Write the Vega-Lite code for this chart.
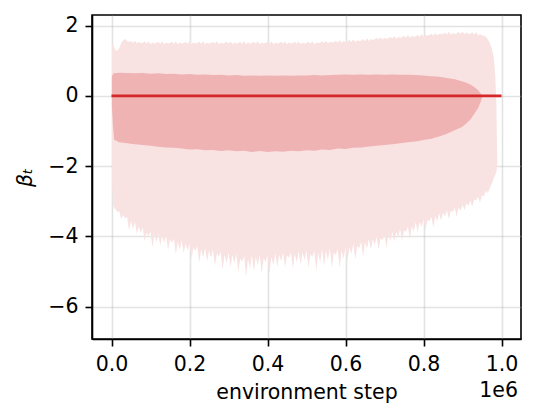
{
  "$schema": "https://vega.github.io/schema/vega-lite/v6.json",
  "autosize": {"type": "none"},
  "width": 429,
  "height": 324,
  "padding": {"left": 92, "top": 15, "right": 15, "bottom": 80},
  "background": "white",
  "config": {
    "view": {"stroke": "black", "strokeWidth": 1.6},
    "font": "DejaVu Sans",
    "axis": {
      "labelFont": "DejaVu Sans",
      "labelFontSize": 20.5,
      "labelColor": "black",
      "titleFont": "DejaVu Sans",
      "titleFontSize": 20.5,
      "titleFontWeight": "normal",
      "titleColor": "black",
      "domainColor": "black",
      "domainWidth": 1.6,
      "tickColor": "black",
      "tickWidth": 1.6,
      "tickSize": 7,
      "grid": true,
      "gridColor": "#b0b0b0",
      "gridOpacity": 0.35,
      "gridWidth": 1.6,
      "zindex": 1
    }
  },
  "datasets": {
    "outer": [
      {"step": 1000, "lo": -2.4, "hi": 1.5},
      {"step": 4000, "lo": -3.1, "hi": 1.45},
      {"step": 7000, "lo": -3.2, "hi": 1.38},
      {"step": 10000, "lo": -3.21, "hi": 1.3},
      {"step": 15000, "lo": -3.31, "hi": 1.28},
      {"step": 20000, "lo": -3.28, "hi": 1.36},
      {"step": 25000, "lo": -3.51, "hi": 1.5},
      {"step": 30000, "lo": -3.4, "hi": 1.58},
      {"step": 35000, "lo": -3.49, "hi": 1.62},
      {"step": 40000, "lo": -3.44, "hi": 1.55},
      {"step": 45000, "lo": -3.83, "hi": 1.54},
      {"step": 50000, "lo": -3.56, "hi": 1.56},
      {"step": 55000, "lo": -3.78, "hi": 1.5},
      {"step": 60000, "lo": -3.58, "hi": 1.57},
      {"step": 65000, "lo": -3.93, "hi": 1.49},
      {"step": 70000, "lo": -3.71, "hi": 1.54},
      {"step": 75000, "lo": -3.91, "hi": 1.5},
      {"step": 80000, "lo": -3.75, "hi": 1.51},
      {"step": 85000, "lo": -4.14, "hi": 1.55},
      {"step": 90000, "lo": -3.89, "hi": 1.48},
      {"step": 95000, "lo": -3.98, "hi": 1.55},
      {"step": 100000, "lo": -3.87, "hi": 1.47},
      {"step": 105000, "lo": -4.31, "hi": 1.52},
      {"step": 110000, "lo": -3.95, "hi": 1.49},
      {"step": 115000, "lo": -4.17, "hi": 1.5},
      {"step": 120000, "lo": -3.91, "hi": 1.54},
      {"step": 125000, "lo": -4.26, "hi": 1.48},
      {"step": 130000, "lo": -3.99, "hi": 1.55},
      {"step": 135000, "lo": -4.18, "hi": 1.47},
      {"step": 140000, "lo": -3.97, "hi": 1.52},
      {"step": 145000, "lo": -4.39, "hi": 1.49},
      {"step": 150000, "lo": -4.09, "hi": 1.5},
      {"step": 155000, "lo": -4.18, "hi": 1.54},
      {"step": 160000, "lo": -4.06, "hi": 1.48},
      {"step": 165000, "lo": -4.51, "hi": 1.55},
      {"step": 170000, "lo": -4.15, "hi": 1.47},
      {"step": 175000, "lo": -4.37, "hi": 1.52},
      {"step": 180000, "lo": -4.12, "hi": 1.49},
      {"step": 185000, "lo": -4.48, "hi": 1.5},
      {"step": 190000, "lo": -4.21, "hi": 1.54},
      {"step": 195000, "lo": -4.41, "hi": 1.48},
      {"step": 200000, "lo": -4.2, "hi": 1.55},
      {"step": 205000, "lo": -4.63, "hi": 1.47},
      {"step": 210000, "lo": -4.32, "hi": 1.52},
      {"step": 215000, "lo": -4.41, "hi": 1.49},
      {"step": 220000, "lo": -4.28, "hi": 1.5},
      {"step": 225000, "lo": -4.75, "hi": 1.54},
      {"step": 230000, "lo": -4.36, "hi": 1.48},
      {"step": 235000, "lo": -4.6, "hi": 1.55},
      {"step": 240000, "lo": -4.32, "hi": 1.47},
      {"step": 245000, "lo": -4.71, "hi": 1.52},
      {"step": 250000, "lo": -4.4, "hi": 1.49},
      {"step": 255000, "lo": -4.61, "hi": 1.5},
      {"step": 260000, "lo": -4.37, "hi": 1.54},
      {"step": 265000, "lo": -4.84, "hi": 1.48},
      {"step": 270000, "lo": -4.49, "hi": 1.55},
      {"step": 275000, "lo": -4.58, "hi": 1.47},
      {"step": 280000, "lo": -4.44, "hi": 1.52},
      {"step": 285000, "lo": -4.96, "hi": 1.49},
      {"step": 290000, "lo": -4.51, "hi": 1.5},
      {"step": 295000, "lo": -4.77, "hi": 1.54},
      {"step": 300000, "lo": -4.45, "hi": 1.48},
      {"step": 305000, "lo": -4.88, "hi": 1.55},
      {"step": 310000, "lo": -4.53, "hi": 1.47},
      {"step": 315000, "lo": -4.76, "hi": 1.52},
      {"step": 320000, "lo": -4.49, "hi": 1.49},
      {"step": 325000, "lo": -5.02, "hi": 1.5},
      {"step": 330000, "lo": -4.63, "hi": 1.54},
      {"step": 335000, "lo": -4.72, "hi": 1.48},
      {"step": 340000, "lo": -4.56, "hi": 1.55},
      {"step": 345000, "lo": -5.14, "hi": 1.47},
      {"step": 350000, "lo": -4.64, "hi": 1.52},
      {"step": 355000, "lo": -4.91, "hi": 1.49},
      {"step": 360000, "lo": -4.54, "hi": 1.5},
      {"step": 365000, "lo": -4.99, "hi": 1.54},
      {"step": 370000, "lo": -4.59, "hi": 1.48},
      {"step": 375000, "lo": -4.83, "hi": 1.55},
      {"step": 380000, "lo": -4.52, "hi": 1.47},
      {"step": 385000, "lo": -5.06, "hi": 1.52},
      {"step": 390000, "lo": -4.63, "hi": 1.49},
      {"step": 395000, "lo": -4.72, "hi": 1.5},
      {"step": 400000, "lo": -4.53, "hi": 1.54},
      {"step": 405000, "lo": -5.08, "hi": 1.48},
      {"step": 410000, "lo": -4.58, "hi": 1.55},
      {"step": 415000, "lo": -4.82, "hi": 1.47},
      {"step": 420000, "lo": -4.48, "hi": 1.52},
      {"step": 425000, "lo": -4.87, "hi": 1.49},
      {"step": 430000, "lo": -4.52, "hi": 1.5},
      {"step": 435000, "lo": -4.71, "hi": 1.54},
      {"step": 440000, "lo": -4.46, "hi": 1.48},
      {"step": 445000, "lo": -4.87, "hi": 1.55},
      {"step": 450000, "lo": -4.54, "hi": 1.47},
      {"step": 455000, "lo": -4.61, "hi": 1.52},
      {"step": 460000, "lo": -4.46, "hi": 1.49},
      {"step": 465000, "lo": -4.92, "hi": 1.5},
      {"step": 470000, "lo": -4.5, "hi": 1.54},
      {"step": 475000, "lo": -4.73, "hi": 1.48},
      {"step": 480000, "lo": -4.42, "hi": 1.55},
      {"step": 485000, "lo": -4.81, "hi": 1.47},
      {"step": 490000, "lo": -4.46, "hi": 1.52},
      {"step": 495000, "lo": -4.68, "hi": 1.49},
      {"step": 500000, "lo": -4.4, "hi": 1.5},
      {"step": 505000, "lo": -4.9, "hi": 1.54},
      {"step": 510000, "lo": -4.5, "hi": 1.48},
      {"step": 515000, "lo": -4.59, "hi": 1.55},
      {"step": 520000, "lo": -4.41, "hi": 1.47},
      {"step": 525000, "lo": -4.98, "hi": 1.52},
      {"step": 530000, "lo": -4.46, "hi": 1.5},
      {"step": 535000, "lo": -4.74, "hi": 1.51},
      {"step": 540000, "lo": -4.36, "hi": 1.55},
      {"step": 545000, "lo": -4.84, "hi": 1.5},
      {"step": 550000, "lo": -4.42, "hi": 1.57},
      {"step": 555000, "lo": -4.67, "hi": 1.49},
      {"step": 560000, "lo": -4.34, "hi": 1.54},
      {"step": 565000, "lo": -4.89, "hi": 1.52},
      {"step": 570000, "lo": -4.45, "hi": 1.53},
      {"step": 575000, "lo": -4.54, "hi": 1.57},
      {"step": 580000, "lo": -4.35, "hi": 1.51},
      {"step": 585000, "lo": -4.9, "hi": 1.58},
      {"step": 590000, "lo": -4.4, "hi": 1.51},
      {"step": 595000, "lo": -4.64, "hi": 1.56},
      {"step": 600000, "lo": -4.3, "hi": 1.53},
      {"step": 605000, "lo": -4.69, "hi": 1.54},
      {"step": 610000, "lo": -4.31, "hi": 1.59},
      {"step": 615000, "lo": -4.5, "hi": 1.53},
      {"step": 620000, "lo": -4.22, "hi": 1.61},
      {"step": 625000, "lo": -4.65, "hi": 1.53},
      {"step": 630000, "lo": -4.28, "hi": 1.58},
      {"step": 635000, "lo": -4.33, "hi": 1.56},
      {"step": 640000, "lo": -4.16, "hi": 1.57},
      {"step": 645000, "lo": -4.58, "hi": 1.62},
      {"step": 650000, "lo": -4.17, "hi": 1.56},
      {"step": 655000, "lo": -4.35, "hi": 1.64},
      {"step": 660000, "lo": -4.07, "hi": 1.56},
      {"step": 665000, "lo": -4.38, "hi": 1.62},
      {"step": 670000, "lo": -4.08, "hi": 1.59},
      {"step": 675000, "lo": -4.24, "hi": 1.61},
      {"step": 680000, "lo": -4.01, "hi": 1.65},
      {"step": 685000, "lo": -4.37, "hi": 1.6},
      {"step": 690000, "lo": -4.06, "hi": 1.67},
      {"step": 695000, "lo": -4.11, "hi": 1.6},
      {"step": 700000, "lo": -3.97, "hi": 1.65},
      {"step": 705000, "lo": -4.33, "hi": 1.62},
      {"step": 710000, "lo": -3.97, "hi": 1.64},
      {"step": 715000, "lo": -4.13, "hi": 1.68},
      {"step": 720000, "lo": -3.87, "hi": 1.63},
      {"step": 725000, "lo": -4.15, "hi": 1.7},
      {"step": 730000, "lo": -3.87, "hi": 1.62},
      {"step": 735000, "lo": -4.01, "hi": 1.68},
      {"step": 740000, "lo": -3.79, "hi": 1.65},
      {"step": 745000, "lo": -4.13, "hi": 1.67},
      {"step": 750000, "lo": -3.83, "hi": 1.71},
      {"step": 755000, "lo": -3.87, "hi": 1.65},
      {"step": 760000, "lo": -3.72, "hi": 1.73},
      {"step": 765000, "lo": -4.08, "hi": 1.65},
      {"step": 770000, "lo": -3.71, "hi": 1.71},
      {"step": 775000, "lo": -3.87, "hi": 1.68},
      {"step": 780000, "lo": -3.6, "hi": 1.69},
      {"step": 785000, "lo": -3.88, "hi": 1.74},
      {"step": 790000, "lo": -3.59, "hi": 1.68},
      {"step": 795000, "lo": -3.73, "hi": 1.76},
      {"step": 800000, "lo": -3.5, "hi": 1.68},
      {"step": 805000, "lo": -3.83, "hi": 1.74},
      {"step": 810000, "lo": -3.54, "hi": 1.71},
      {"step": 815000, "lo": -3.57, "hi": 1.73},
      {"step": 820000, "lo": -3.44, "hi": 1.77},
      {"step": 825000, "lo": -3.75, "hi": 1.72},
      {"step": 830000, "lo": -3.43, "hi": 1.79},
      {"step": 835000, "lo": -3.56, "hi": 1.72},
      {"step": 840000, "lo": -3.34, "hi": 1.77},
      {"step": 845000, "lo": -3.55, "hi": 1.75},
      {"step": 850000, "lo": -3.33, "hi": 1.76},
      {"step": 855000, "lo": -3.43, "hi": 1.8},
      {"step": 860000, "lo": -3.26, "hi": 1.74},
      {"step": 865000, "lo": -3.5, "hi": 1.82},
      {"step": 870000, "lo": -3.28, "hi": 1.74},
      {"step": 875000, "lo": -3.3, "hi": 1.79},
      {"step": 880000, "lo": -3.19, "hi": 1.76},
      {"step": 885000, "lo": -3.43, "hi": 1.77},
      {"step": 890000, "lo": -3.18, "hi": 1.82},
      {"step": 895000, "lo": -3.27, "hi": 1.76},
      {"step": 900000, "lo": -3.1, "hi": 1.83},
      {"step": 905000, "lo": -3.25, "hi": 1.75},
      {"step": 910000, "lo": -3.06, "hi": 1.8},
      {"step": 915000, "lo": -3.13, "hi": 1.77},
      {"step": 920000, "lo": -2.98, "hi": 1.77},
      {"step": 925000, "lo": -3.15, "hi": 1.81},
      {"step": 930000, "lo": -2.96, "hi": 1.75},
      {"step": 935000, "lo": -2.97, "hi": 1.81},
      {"step": 940000, "lo": -2.87, "hi": 1.72},
      {"step": 945000, "lo": -3.04, "hi": 1.76},
      {"step": 950000, "lo": -2.83, "hi": 1.72},
      {"step": 955000, "lo": -2.86, "hi": 1.71},
      {"step": 960000, "lo": -2.7, "hi": 1.68},
      {"step": 965000, "lo": -2.77, "hi": 1.6},
      {"step": 970000, "lo": -2.62, "hi": 1.5},
      {"step": 975000, "lo": -2.5, "hi": 1.35},
      {"step": 980000, "lo": -2.35, "hi": 1.1},
      {"step": 984000, "lo": -2.25, "hi": 0.6},
      {"step": 987000, "lo": -2.15, "hi": -0.3},
      {"step": 989000, "lo": -2.0, "hi": -1.8}
    ],
    "inner": [
      {"step": 1000, "lo": -0.3, "hi": 0.55},
      {"step": 4000, "lo": -0.9, "hi": 0.62},
      {"step": 7000, "lo": -1.25, "hi": 0.64},
      {"step": 20000, "lo": -1.32, "hi": 0.66},
      {"step": 40000, "lo": -1.35, "hi": 0.65},
      {"step": 60000, "lo": -1.38, "hi": 0.64},
      {"step": 80000, "lo": -1.4, "hi": 0.65},
      {"step": 100000, "lo": -1.42, "hi": 0.63},
      {"step": 120000, "lo": -1.45, "hi": 0.64},
      {"step": 140000, "lo": -1.47, "hi": 0.62},
      {"step": 160000, "lo": -1.48, "hi": 0.63},
      {"step": 180000, "lo": -1.5, "hi": 0.61},
      {"step": 200000, "lo": -1.53, "hi": 0.62},
      {"step": 220000, "lo": -1.52, "hi": 0.6},
      {"step": 240000, "lo": -1.55, "hi": 0.61},
      {"step": 260000, "lo": -1.54, "hi": 0.59},
      {"step": 280000, "lo": -1.57, "hi": 0.6},
      {"step": 300000, "lo": -1.55, "hi": 0.58},
      {"step": 320000, "lo": -1.58, "hi": 0.59},
      {"step": 340000, "lo": -1.56, "hi": 0.57},
      {"step": 360000, "lo": -1.6, "hi": 0.58},
      {"step": 380000, "lo": -1.57, "hi": 0.57},
      {"step": 400000, "lo": -1.6, "hi": 0.58},
      {"step": 420000, "lo": -1.58, "hi": 0.57},
      {"step": 440000, "lo": -1.59, "hi": 0.58},
      {"step": 460000, "lo": -1.56, "hi": 0.57},
      {"step": 480000, "lo": -1.58, "hi": 0.58},
      {"step": 500000, "lo": -1.55, "hi": 0.58},
      {"step": 520000, "lo": -1.56, "hi": 0.59},
      {"step": 540000, "lo": -1.53, "hi": 0.58},
      {"step": 560000, "lo": -1.54, "hi": 0.59},
      {"step": 580000, "lo": -1.5, "hi": 0.6},
      {"step": 600000, "lo": -1.51, "hi": 0.61},
      {"step": 620000, "lo": -1.48, "hi": 0.6},
      {"step": 640000, "lo": -1.47, "hi": 0.61},
      {"step": 660000, "lo": -1.44, "hi": 0.6},
      {"step": 680000, "lo": -1.42, "hi": 0.61},
      {"step": 700000, "lo": -1.4, "hi": 0.6},
      {"step": 720000, "lo": -1.38, "hi": 0.61},
      {"step": 740000, "lo": -1.35, "hi": 0.6},
      {"step": 760000, "lo": -1.32, "hi": 0.6},
      {"step": 780000, "lo": -1.3, "hi": 0.59},
      {"step": 800000, "lo": -1.26, "hi": 0.58},
      {"step": 820000, "lo": -1.22, "hi": 0.56},
      {"step": 840000, "lo": -1.16, "hi": 0.54},
      {"step": 860000, "lo": -1.08, "hi": 0.51},
      {"step": 880000, "lo": -0.98, "hi": 0.47},
      {"step": 900000, "lo": -0.88, "hi": 0.41},
      {"step": 910000, "lo": -0.78, "hi": 0.37},
      {"step": 920000, "lo": -0.68, "hi": 0.32},
      {"step": 930000, "lo": -0.52, "hi": 0.25},
      {"step": 940000, "lo": -0.35, "hi": 0.16},
      {"step": 945000, "lo": -0.22, "hi": 0.09},
      {"step": 950000, "lo": -0.06, "hi": 0.02},
      {"step": 952000, "lo": 0.0, "hi": 0.0}
    ],
    "mean": [
      {"step": 0, "beta": 0},
      {"step": 1000000, "beta": 0}
    ],
    "note": [
      {"step": 1050000, "beta": -6.92, "label": "1e6"}
    ]
  },
  "layer": [
    {
      "data": {"name": "outer"},
      "mark": {"type": "area", "color": "#f9e2e2", "opacity": 1},
      "encoding": {
        "x": {
          "field": "step", "type": "quantitative",
          "scale": {"domain": [-50000, 1050000], "nice": false, "zero": false},
          "axis": {
            "values": [0, 200000, 400000, 600000, 800000, 1000000],
            "labelExpr": "format(datum.value / 1000000, '.1f')",
            "labelPadding": 8,
            "title": "environment step",
            "titlePadding": 8
          }
        },
        "y": {
          "field": "lo", "type": "quantitative",
          "scale": {"domain": [-6.92, 2.3], "nice": false, "zero": false},
          "axis": {
            "values": [-6, -4, -2, 0, 2],
            "labelExpr": "replace(format(datum.value, 'd'), '-', '−')",
            "labelPadding": 7,
            "title": "βₜ",
            "titleFontStyle": "italic",
            "titlePadding": 12
          }
        },
        "y2": {"field": "hi"}
      }
    },
    {
      "data": {"name": "inner"},
      "mark": {"type": "area", "color": "#efb3b4", "opacity": 1},
      "encoding": {
        "x": {"field": "step", "type": "quantitative"},
        "y": {"field": "lo", "type": "quantitative"},
        "y2": {"field": "hi"}
      }
    },
    {
      "data": {"name": "mean"},
      "mark": {"type": "line", "color": "#d62728", "strokeWidth": 2.8},
      "encoding": {
        "x": {"field": "step", "type": "quantitative"},
        "y": {"field": "beta", "type": "quantitative"}
      }
    },
    {
      "data": {"name": "note"},
      "mark": {"type": "text", "align": "right", "baseline": "alphabetic", "dx": -3, "dy": 58, "fontSize": 20.5, "font": "DejaVu Sans", "color": "black"},
      "encoding": {
        "x": {"field": "step", "type": "quantitative"},
        "y": {"field": "beta", "type": "quantitative"},
        "text": {"field": "label"}
      }
    }
  ]
}
